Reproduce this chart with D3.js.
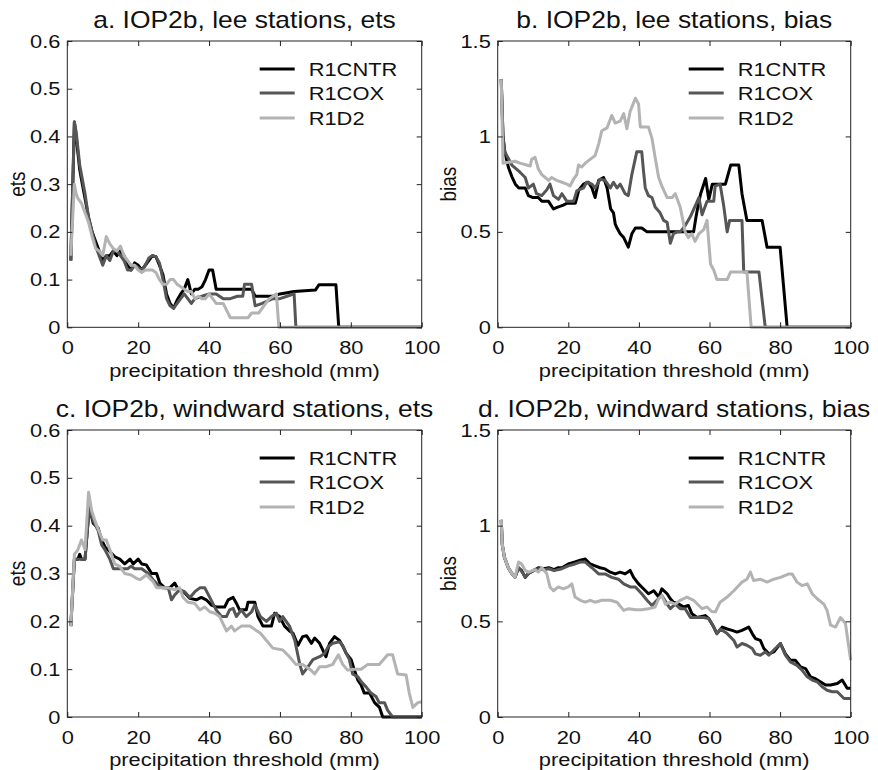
<!DOCTYPE html>
<html>
<head>
<meta charset="utf-8">
<script src="https://cdn.jsdelivr.net/npm/d3@7"></script>
<style>
  html, body { margin: 0; padding: 0; background: #fff; }
  svg { display: block; }
  text { font-family: "Liberation Sans", Arial, Helvetica, sans-serif; fill: #111; }
</style>
</head>
<body>
<div id="chart"></div>
<script>
// ---------------- data ----------------
const seriesNames = ["R1CNTR", "R1COX", "R1D2"];
const xTicks = [0, 20, 40, 60, 80, 100];
const etsTicks = [0, 0.1, 0.2, 0.3, 0.4, 0.5, 0.6];
const biasTicks = [0, 0.5, 1, 1.5];
const panelTitles = [
  "a. IOP2b, lee stations, ets",
  "b. IOP2b, lee stations, bias",
  "c. IOP2b, windward stations, ets",
  "d. IOP2b, windward stations, bias"
];
const xLabel = "precipitation threshold (mm)";

// a. lee stations, ets  [threshold (mm), ets]
const leeEtsCNTR = [[1,0.14],[2,0.43],[2.5,0.40],[3.5,0.33],[4,0.31],[5,0.27],[6,0.23],[7,0.2],[8,0.18],[9,0.16],[10,0.14],[11,0.15],[12,0.15],[13,0.16],[14,0.15],[15,0.16],[16,0.15],[17,0.13],[18,0.12],[19,0.135],[20,0.13],[21,0.12],[22,0.13],[23,0.14],[24,0.15],[25,0.148],[26,0.13],[27,0.11],[28,0.07],[29,0.05],[30,0.04],[31,0.057],[32,0.07],[33,0.08],[34,0.1],[35,0.07],[36,0.08],[37,0.08],[38,0.085],[39,0.1],[40,0.12],[41,0.12],[42,0.08],[52,0.08],[53,0.065],[58,0.065],[60,0.07],[64,0.075],[70,0.078],[71,0.089],[75.8,0.089],[76.6,0],[100,0]];
const leeEtsCOX = [[1,0.14],[2,0.43],[2.5,0.41],[3.5,0.34],[4,0.32],[5,0.28],[6,0.23],[7,0.2],[8,0.17],[9,0.15],[10,0.13],[11,0.15],[12,0.14],[13,0.16],[14,0.16],[15,0.15],[16,0.14],[17,0.12],[18,0.12],[19,0.13],[20,0.125],[21,0.12],[22,0.13],[23,0.145],[24,0.15],[25,0.148],[26,0.135],[27,0.1],[28,0.06],[29,0.045],[30,0.04],[31,0.05],[32,0.06],[33,0.07],[34,0.06],[35,0.05],[36,0.06],[38,0.065],[40,0.07],[42,0.07],[44,0.06],[46,0.06],[48,0.065],[49.5,0.065],[50,0.09],[52,0.09],[53,0.045],[55,0.05],[58,0.06],[60,0.06],[62,0.065],[64,0.07],[64.5,0],[100,0]];
const leeEtsD2 = [[1,0.15],[2,0.30],[2.5,0.28],[3,0.27],[4,0.26],[5,0.24],[6,0.22],[7,0.19],[8,0.165],[9,0.16],[10,0.15],[11,0.19],[12,0.175],[13,0.165],[14,0.16],[15,0.17],[16,0.15],[17,0.14],[18,0.13],[19,0.13],[20,0.12],[21,0.115],[22,0.12],[23,0.12],[24,0.12],[25,0.115],[26,0.1],[27,0.09],[28,0.09],[29,0.1],[30,0.1],[31,0.09],[32,0.085],[33,0.08],[34,0.075],[35,0.075],[36,0.06],[37,0.065],[38,0.06],[39,0.06],[40,0.07],[41,0.06],[42,0.05],[43,0.05],[44,0.05],[45,0.035],[46,0.02],[51,0.02],[52,0.03],[54,0.03],[56,0.05],[57,0.06],[59,0.07],[59.7,0],[100,0]];

// b. lee stations, bias
const leeBiasCNTR = [[1,1.30],[1.5,1.0],[2,0.92],[3,0.84],[4,0.79],[5,0.75],[6,0.73],[7.8,0.73],[8.7,0.69],[10,0.68],[11.5,0.68],[12.5,0.66],[14.4,0.66],[15.8,0.62],[17,0.63],[18.6,0.64],[19.6,0.65],[22,0.65],[23,0.72],[24.3,0.75],[25.7,0.76],[26.7,0.73],[27.6,0.68],[28.6,0.77],[30,0.785],[31,0.73],[32,0.62],[32.8,0.60],[33.3,0.54],[33.8,0.52],[34.7,0.49],[35.7,0.47],[37,0.42],[38,0.49],[39,0.52],[40.8,0.52],[42.3,0.50],[55.5,0.50],[56.2,0.58],[57,0.66],[57.5,0.70],[58.9,0.78],[59.8,0.67],[60.8,0.75],[64.5,0.75],[66,0.85],[68.3,0.85],[69.2,0.70],[70.6,0.56],[74.9,0.56],[76.3,0.42],[80,0.42],[82,0],[100,0]];
const leeBiasCOX = [[1,1.30],[1.5,1.0],[2,0.92],[4,0.85],[5.9,0.82],[7.8,0.785],[8.7,0.73],[10.1,0.75],[11,0.70],[12.5,0.69],[13.9,0.72],[14.8,0.75],[15.8,0.69],[17.2,0.67],[18.2,0.70],[19.6,0.66],[21.5,0.66],[22.4,0.715],[24.3,0.73],[25.2,0.76],[26.7,0.75],[27.6,0.73],[29,0.776],[30.4,0.77],[31.9,0.73],[32.8,0.76],[33.8,0.73],[34.7,0.75],[36.1,0.70],[37,0.69],[38,0.80],[39.4,0.92],[40.8,0.92],[41.3,0.82],[41.8,0.73],[42.7,0.69],[43.7,0.68],[44.6,0.63],[46,0.60],[47,0.56],[48,0.55],[48.9,0.44],[49.8,0.49],[50.8,0.50],[51.7,0.50],[53,0.53],[54.6,0.58],[57,0.68],[57.9,0.59],[59.3,0.66],[61.2,0.66],[61.6,0.74],[63,0.75],[64,0.64],[65,0.50],[65.7,0.56],[69.2,0.56],[69.7,0.29],[74,0.29],[75.8,0],[100,0]];
const leeBiasD2 = [[1,1.30],[1.5,0.86],[4.9,0.87],[6.3,0.86],[8.2,0.85],[9.2,0.845],[9.6,0.88],[10.6,0.89],[11.5,0.83],[12.5,0.80],[14.4,0.77],[15.3,0.785],[16.7,0.77],[18.2,0.76],[19.6,0.75],[20.5,0.74],[21.5,0.776],[22.4,0.80],[22.9,0.85],[23.8,0.84],[24.8,0.86],[26.2,0.88],[27.6,0.90],[28.6,0.96],[29.5,1.03],[31,1.045],[32.3,1.11],[33.3,1.07],[34.7,1.08],[35.7,1.12],[36.6,1.04],[37.5,1.13],[39,1.20],[39.9,1.17],[40.4,1.05],[42.7,1.05],[43.7,0.99],[44.6,0.89],[45.6,0.785],[46.5,0.74],[48,0.68],[49.4,0.68],[50.3,0.70],[51.7,0.63],[53.1,0.50],[54,0.47],[55,0.49],[55.9,0.45],[57,0.49],[58.3,0.51],[59.3,0.56],[60.3,0.33],[61.2,0.30],[62.1,0.25],[65,0.25],[66,0.29],[70.6,0.29],[71.8,0],[100,0]];

// c. windward stations, ets
const windEtsCNTR = [[1,0.19],[2,0.33],[3,0.33],[3.5,0.34],[4,0.33],[5,0.33],[6.2,0.44],[7.3,0.405],[8.7,0.395],[9.7,0.37],[10.6,0.356],[12,0.346],[13.4,0.335],[14.8,0.33],[16.2,0.32],[17.7,0.33],[18.6,0.32],[20,0.33],[21,0.32],[22.3,0.318],[23.8,0.30],[25.2,0.30],[26.1,0.28],[27.5,0.27],[28.9,0.27],[30.3,0.28],[31.3,0.266],[33.1,0.26],[34.6,0.248],[36.4,0.245],[37.8,0.25],[39.2,0.245],[40.7,0.234],[42,0.23],[44.4,0.23],[45.4,0.245],[46.8,0.25],[47.7,0.238],[48.6,0.224],[50.5,0.224],[51,0.24],[52.9,0.24],[53.8,0.21],[55.2,0.19],[57.6,0.19],[58.5,0.217],[59.9,0.21],[61.3,0.19],[62.7,0.18],[63.7,0.175],[65.1,0.15],[66.4,0.168],[67.5,0.17],[68.9,0.154],[69.8,0.165],[71.2,0.154],[73,0.126],[74,0.154],[75.4,0.168],[76.8,0.16],[77.8,0.147],[78.7,0.133],[80.1,0.12],[81,0.098],[82,0.077],[82.9,0.067],[83.8,0.05],[85.3,0.05],[86.7,0.03],[88.1,0.02],[89,0],[100,0]];
const windEtsCOX = [[1,0.19],[2,0.33],[3,0.33],[4,0.33],[5,0.33],[6.2,0.44],[7.3,0.41],[8.7,0.39],[9.7,0.36],[10.6,0.35],[12,0.33],[13,0.31],[15,0.31],[17,0.31],[18,0.315],[19,0.31],[21,0.31],[22.8,0.30],[24.2,0.287],[25.6,0.276],[27,0.27],[28.5,0.27],[29.4,0.245],[30.3,0.255],[31.7,0.266],[33.1,0.262],[34.6,0.25],[36,0.262],[37.4,0.27],[38.8,0.27],[40.2,0.25],[42,0.224],[43.5,0.21],[44.9,0.21],[45.8,0.224],[46.8,0.227],[47.7,0.21],[49.1,0.224],[50.5,0.21],[52,0.22],[52.9,0.234],[54.5,0.21],[56.2,0.2],[57.6,0.21],[59,0.217],[59.9,0.2],[60.8,0.21],[62.7,0.19],[64.2,0.16],[65.6,0.11],[66.4,0.09],[67.9,0.105],[69.3,0.12],[71.2,0.126],[72.6,0.133],[73.6,0.147],[74.9,0.154],[76.8,0.157],[77.7,0.15],[78.7,0.133],[79.6,0.12],[80.5,0.09],[82,0.084],[82.9,0.074],[84.3,0.063],[85.7,0.05],[87.1,0.043],[88,0.03],[89.5,0.03],[90.4,0.014],[91.8,0],[100,0]];
const windEtsD2 = [[1,0.19],[2,0.34],[3,0.35],[4,0.37],[5,0.35],[6,0.47],[6.9,0.43],[8.3,0.40],[10,0.37],[11,0.37],[12.5,0.34],[13.4,0.32],[14.8,0.315],[16.2,0.30],[18,0.297],[19.5,0.29],[20.5,0.287],[22.3,0.297],[24.2,0.283],[25.2,0.27],[27,0.27],[28.5,0.27],[30.3,0.266],[31.7,0.27],[32.7,0.25],[34,0.24],[35.9,0.238],[37.4,0.224],[38.8,0.23],[40.2,0.22],[41.6,0.217],[43,0.21],[44.9,0.18],[46.3,0.19],[47.2,0.18],[49.1,0.19],[51.5,0.19],[54.5,0.175],[56.2,0.16],[58,0.144],[60.8,0.14],[62.7,0.126],[64.5,0.11],[66.4,0.11],[68.4,0.10],[69.8,0.09],[71.2,0.105],[73,0.105],[74.9,0.11],[76.5,0.13],[77.7,0.11],[79.1,0.098],[81,0.10],[82.9,0.10],[84.8,0.11],[88,0.11],[90.4,0.13],[91.8,0.13],[93.2,0.09],[95.6,0.088],[96.5,0.05],[97.5,0.02],[98.9,0.03],[100,0.032]];

// d. windward stations, bias
const windBiasCNTR = [[1,1.03],[1.3,0.90],[1.9,0.835],[3,0.78],[4,0.75],[4.9,0.73],[5.9,0.78],[6.8,0.765],[7.8,0.73],[8.7,0.75],[10.6,0.77],[11.5,0.78],[13,0.775],[14.5,0.78],[16,0.77],[17,0.78],[18.2,0.78],[20,0.80],[21.9,0.81],[23.4,0.82],[24.8,0.826],[26.2,0.80],[27.6,0.79],[29,0.78],[30.4,0.774],[31.9,0.757],[33.3,0.748],[34.7,0.757],[36.1,0.748],[37.5,0.766],[38.5,0.73],[39.9,0.696],[41.3,0.67],[42.7,0.644],[44.2,0.66],[45.6,0.627],[46.5,0.67],[48,0.644],[48.9,0.618],[49.8,0.60],[51.3,0.59],[52.7,0.575],[54,0.583],[55,0.54],[56.5,0.52],[58.8,0.53],[59.8,0.514],[61.2,0.47],[62.1,0.436],[63.6,0.47],[65,0.46],[66.4,0.453],[67.8,0.444],[69.2,0.453],[71.1,0.47],[72.1,0.436],[73,0.41],[74.4,0.40],[75.4,0.358],[76.8,0.33],[78.2,0.34],[80.1,0.384],[81.5,0.33],[82.9,0.297],[84.3,0.297],[85.8,0.262],[87.2,0.253],[88.6,0.21],[90,0.20],[91.4,0.184],[92.9,0.167],[94.3,0.167],[96.2,0.175],[97.6,0.193],[99,0.15],[100,0.15]];
const windBiasCOX = [[1,1.03],[1.3,0.90],[1.9,0.835],[3,0.78],[4,0.75],[4.9,0.73],[5.9,0.78],[6.8,0.76],[7.8,0.73],[8.7,0.75],[10.6,0.77],[11.5,0.775],[13,0.77],[14.5,0.775],[16,0.765],[17,0.77],[18.2,0.775],[20,0.79],[21.9,0.80],[23.4,0.81],[24.8,0.81],[26.7,0.78],[28.6,0.748],[30.4,0.748],[32.3,0.73],[34.2,0.72],[35.7,0.696],[37.5,0.68],[39,0.68],[40.8,0.644],[42.3,0.61],[43.7,0.583],[45.1,0.61],[46.5,0.635],[48,0.59],[48.9,0.566],[50.3,0.59],[51.7,0.566],[53.1,0.566],[54.6,0.52],[57,0.52],[58.4,0.52],[59.8,0.514],[61.2,0.47],[62.1,0.436],[63.1,0.46],[65,0.436],[66.9,0.40],[67.8,0.366],[69.2,0.384],[70.6,0.375],[72.1,0.358],[73,0.33],[74.4,0.323],[75.8,0.34],[76.8,0.323],[78.2,0.35],[80.1,0.384],[81.5,0.323],[82.9,0.288],[84.8,0.27],[86.2,0.245],[87.7,0.21],[89.1,0.193],[90.5,0.184],[91.9,0.158],[93.3,0.14],[94.8,0.132],[96.2,0.132],[98.1,0.097],[100,0.097]];
const windBiasD2 = [[1,1.03],[1.3,0.90],[1.9,0.835],[3,0.78],[4,0.75],[4.9,0.73],[5.9,0.81],[6.8,0.80],[7.8,0.766],[8.7,0.757],[10.6,0.77],[11.5,0.757],[12.5,0.78],[13.9,0.75],[14.8,0.68],[15.8,0.66],[17.2,0.68],[18.6,0.67],[20,0.68],[21,0.696],[21.9,0.627],[23.4,0.61],[24.8,0.60],[26.2,0.61],[27.6,0.60],[29.5,0.61],[31.9,0.61],[33.8,0.60],[35.7,0.557],[37.1,0.566],[39,0.56],[40.8,0.56],[42.7,0.566],[44.6,0.575],[45.6,0.618],[46.5,0.635],[47.5,0.59],[48.9,0.60],[50.3,0.59],[51.7,0.61],[53.6,0.627],[55.5,0.61],[57.9,0.566],[59.3,0.575],[60.7,0.55],[61.7,0.55],[63,0.60],[65,0.627],[66.9,0.66],[69.2,0.705],[70.6,0.72],[71.6,0.757],[72.5,0.713],[74.4,0.72],[76.3,0.705],[78.2,0.72],[80.1,0.73],[82.5,0.748],[83.4,0.748],[84.8,0.705],[86.2,0.687],[87.7,0.696],[89.1,0.644],[90.5,0.618],[92.4,0.59],[93.3,0.557],[94.3,0.48],[95.7,0.47],[97.1,0.52],[98.5,0.49],[100,0.297]];

// ---------------- layout / style ----------------
const W = 878, H = 770;
const colors = ["#000000", "#565656", "#b3b3b3"];
const SX = 1.15;          // horizontal glyph stretch of the original figure
const FS = 19;            // tick / label / legend font size
const FT = 23;            // title font size

const panels = [
  { title: panelTitles[0], ylabel: "ets",  yMax: 0.6, yTicks: etsTicks,  data: [leeEtsCNTR, leeEtsCOX, leeEtsD2],     l: 67.3,  r: 421.7, t: 41,  b: 327.3, xl: 50 },
  { title: panelTitles[1], ylabel: "bias", yMax: 1.5, yTicks: biasTicks, data: [leeBiasCNTR, leeBiasCOX, leeBiasD2],   l: 497.7, r: 850.7, t: 41,  b: 327.3, xl: 50 },
  { title: panelTitles[2], ylabel: "ets",  yMax: 0.6, yTicks: etsTicks,  data: [windEtsCNTR, windEtsCOX, windEtsD2],   l: 67.3,  r: 421.7, t: 430, b: 717,   xl: 48.5 },
  { title: panelTitles[3], ylabel: "bias", yMax: 1.5, yTicks: biasTicks, data: [windBiasCNTR, windBiasCOX, windBiasD2], l: 497.7, r: 850.7, t: 430, b: 717,   xl: 48.5 }
];

const svg = d3.select("#chart").append("svg")
  .attr("width", W).attr("height", H).attr("viewBox", `0 0 ${W} ${H}`);
svg.append("rect").attr("width", W).attr("height", H).attr("fill", "#fff");

function stretchedText(g, x, y, str, size, anchor) {
  return g.append("text")
    .attr("transform", `translate(${x},${y}) scale(${SX},1)`)
    .attr("text-anchor", anchor)
    .style("font-size", size + "px")
    .text(str);
}

panels.forEach(p => {
  const x = d3.scaleLinear().domain([0, 100]).range([p.l, p.r]);
  const y = d3.scaleLinear().domain([0, p.yMax]).range([p.b, p.t]);
  const g = svg.append("g");
  const fmt = d => String(d);

  // lines
  const line = d3.line().x(d => x(d[0])).y(d => y(d[1]));
  p.data.forEach((s, i) => {
    g.append("path").datum(s)
      .attr("d", line)
      .attr("fill", "none")
      .attr("stroke", colors[i])
      .attr("stroke-width", 3)
      .attr("stroke-linejoin", "round")
      .attr("stroke-linecap", "butt");
  });

  // axes (ticks inward, on all four sides)
  const axB = g.append("g").attr("transform", `translate(0,${p.b})`)
    .call(d3.axisBottom(x).tickValues(xTicks).tickFormat(fmt).tickSizeInner(-5).tickSizeOuter(0).tickPadding(13.5));
  const axT = g.append("g").attr("transform", `translate(0,${p.t})`)
    .call(d3.axisTop(x).tickValues(xTicks).tickFormat("").tickSizeInner(-5).tickSizeOuter(0));
  const axL = g.append("g").attr("transform", `translate(${p.l},0)`)
    .call(d3.axisLeft(y).tickValues(p.yTicks).tickFormat(fmt).tickSizeInner(-5).tickSizeOuter(0).tickPadding(6));
  const axR = g.append("g").attr("transform", `translate(${p.r},0)`)
    .call(d3.axisRight(y).tickValues(p.yTicks).tickFormat("").tickSizeInner(-5).tickSizeOuter(0));
  [axB, axT, axL, axR].forEach(a => {
    a.select(".domain").remove();
    a.selectAll(".tick line").attr("stroke", "#222").attr("stroke-width", 1);
    a.selectAll(".tick text")
      .attr("fill", "#111")
      .style("font-family", '"Liberation Sans", Arial, sans-serif')
      .style("font-size", FS + "px")
      .attr("transform", `scale(${SX},1)`);
  });

  // frame
  g.append("rect")
    .attr("x", p.l).attr("y", p.t)
    .attr("width", p.r - p.l).attr("height", p.b - p.t)
    .attr("fill", "none").attr("stroke", "#222").attr("stroke-width", 1);

  // title, x label, y label
  stretchedText(g, (p.l + p.r) / 2, p.t - 13.5, p.title, FT, "middle");
  stretchedText(g, (p.l + p.r) / 2, p.b + p.xl, xLabel, FS, "middle");
  g.append("text")
    .attr("transform", `translate(${p.l - 42},${(p.t + p.b) / 2}) rotate(-90) scale(1,${SX})`)
    .attr("text-anchor", "middle")
    .style("font-size", FS + "px")
    .text(p.ylabel);

  // legend
  const offsets = [28, 52, 77];
  seriesNames.forEach((name, i) => {
    const ly = p.t + offsets[i];
    g.append("line")
      .attr("x1", p.r - 162).attr("x2", p.r - 127)
      .attr("y1", ly).attr("y2", ly)
      .attr("stroke", colors[i]).attr("stroke-width", 3);
    stretchedText(g, p.r - 113, ly + 7, name, FS, "start");
  });
});
</script>
</body>
</html>
